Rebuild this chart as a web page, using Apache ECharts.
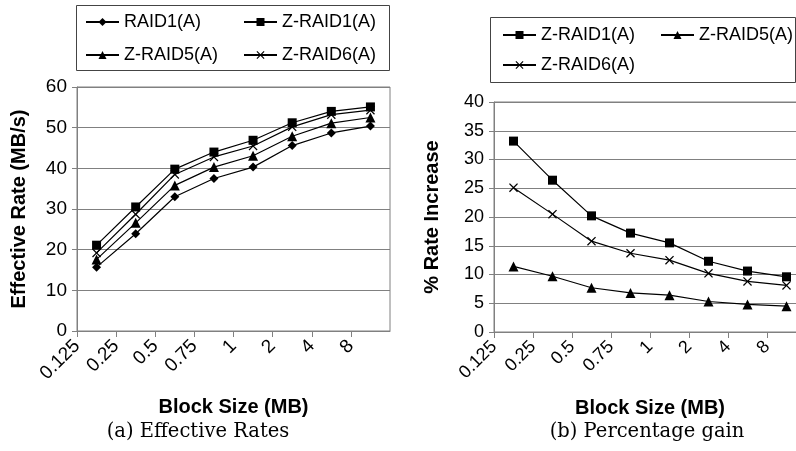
<!DOCTYPE html>
<html>
<head>
<meta charset="utf-8">
<script src="https://cdn.jsdelivr.net/npm/echarts@6/dist/echarts.min.js"></script>
<style>
  html, body { margin: 0; padding: 0; background: #fff; }
  #chart { width: 796px; height: 451px; }
</style>
</head>
<body>
<div id="chart"></div>
<script>
  // block sizes (MB), tick labels on both x axes
  const blockSizes = ['0.125', '0.25', '0.5', '0.75', '1', '2', '4', '8'];

  // (a) effective rates, MB/s
  const raid1 = [15.7, 23.9, 33.0, 37.5, 40.3, 45.6, 48.7, 50.4];
  const zraid1 = [21.1, 30.5, 39.8, 44.0, 46.9, 51.2, 54.0, 55.1];
  const zraid5 = [17.6, 26.6, 35.8, 40.3, 43.1, 47.9, 51.1, 52.5];
  const zraid6 = [19.2, 28.7, 38.5, 42.8, 45.5, 50.2, 53.2, 54.3];

  // (b) percentage gain over RAID1
  const gainZraid1 = [33.2, 26.4, 20.2, 17.2, 15.5, 12.3, 10.6, 9.6];
  const gainZraid5 = [11.4, 9.7, 7.7, 6.8, 6.4, 5.3, 4.8, 4.5];
  const gainZraid6 = [25.1, 20.5, 15.8, 13.7, 12.5, 10.2, 8.8, 8.1];

  const sans = '"Liberation Sans", Arial, sans-serif';
  const serif = '"DejaVu Serif", "Liberation Serif", serif';
  const gray = '#808080';
  const crossPath = 'path://M0,1L1,0L5,4L9,0L10,1L6,5L10,9L9,10L5,6L1,10L0,9L4,5Z';

  const chart = echarts.init(document.getElementById('chart'));

  function lineSeries(name, data, symbol, size, idx) {
    return {
      name: name,
      type: 'line',
      xAxisIndex: idx * 2,
      yAxisIndex: idx,
      data: data,
      symbol: symbol,
      symbolSize: size,
      showAllSymbol: true,
      animation: false,
      lineStyle: { color: '#000', width: 1.2 },
      itemStyle: { color: '#000' }
    };
  }

  // data axis (bands) + label axis (labels sit on the band edges)
  function xAxes(gridIndex, fontSize) {
    return [
      {
        type: 'category',
        gridIndex: gridIndex,
        position: 'bottom',
        data: blockSizes,
        boundaryGap: true,
        axisLine: { show: true, lineStyle: { color: gray } },
        axisTick: { show: false },
        axisLabel: { show: false },
        splitLine: { show: false }
      },
      {
        type: 'category',
        gridIndex: gridIndex,
        position: 'bottom',
        offset: 0,
        data: blockSizes.concat(['']),
        boundaryGap: false,
        axisLine: { show: false },
        axisTick: {
          show: true, length: 6,
          interval: function (i) { return i < blockSizes.length; },
          lineStyle: { color: gray }
        },
        axisLabel: {
          rotate: 45, margin: 12, interval: 0,
          fontFamily: sans, fontSize: fontSize, color: '#000'
        },
        splitLine: { show: false },
        name: 'Block Size (MB)',
        nameLocation: 'middle',
        nameGap: 66,
        nameTextStyle: { fontFamily: sans, fontSize: 20, fontWeight: 'bold', color: '#000' }
      }
    ];
  }

  function yAxis(gridIndex, max, interval, name, nameGap, fontSize) {
    return {
      type: 'value',
      gridIndex: gridIndex,
      min: 0, max: max, interval: interval,
      axisLine: { show: true, lineStyle: { color: gray } },
      axisTick: { show: true, length: 5, lineStyle: { color: gray } },
      axisLabel: { margin: 10, fontFamily: sans, fontSize: fontSize, color: '#000' },
      splitLine: { show: true, lineStyle: { color: gray, width: 1 } },
      name: name,
      nameLocation: 'middle',
      nameGap: nameGap,
      nameTextStyle: { fontFamily: sans, fontSize: 20, fontWeight: 'bold', color: '#000' }
    };
  }

  // one legend per column so the columns line up like the original
  function legendCol(left, top, gap, names) {
    return {
      orient: 'vertical',
      left: left, top: top,
      padding: 0,
      itemWidth: 33,
      itemHeight: 10,
      itemGap: gap,
      textStyle: { fontFamily: sans, fontSize: 18, lineHeight: 20, color: '#000' },
      data: names,
      formatter: function (n) { return n.replace('#b', ''); }
    };
  }

  const option = {
    animation: false,
    backgroundColor: '#fff',
    legend: [
      legendCol(85, 12, 13, ['RAID1(A)', 'Z-RAID5(A)']),
      legendCol(243, 12, 13, ['Z-RAID1(A)', 'Z-RAID6(A)']),
      legendCol(502, 25, 10, ['Z-RAID1(A)#b', 'Z-RAID6(A)#b']),
      legendCol(660, 25, 10, ['Z-RAID5(A)#b'])
    ],
    grid: [
      { left: 77, right: 406, top: 87, bottom: 120, show: true, borderColor: gray, borderWidth: 1, outerBoundsMode: 'none' },
      { left: 494, right: -10, top: 102, bottom: 119, show: true, borderColor: gray, borderWidth: 1, outerBoundsMode: 'none' }
    ],
    xAxis: xAxes(0, 19).concat(xAxes(1, 18)),
    yAxis: [
      yAxis(0, 60, 10, 'Effective Rate (MB/s)', 48, 19),
      yAxis(1, 40, 5, '% Rate Increase', 52, 18)
    ],
    series: [
      lineSeries('RAID1(A)', raid1, 'diamond', 9, 0),
      lineSeries('Z-RAID1(A)', zraid1, 'rect', 9, 0),
      lineSeries('Z-RAID5(A)', zraid5, 'triangle', 10, 0),
      lineSeries('Z-RAID6(A)', zraid6, crossPath, 9, 0),
      lineSeries('Z-RAID1(A)#b', gainZraid1, 'rect', 9, 1),
      lineSeries('Z-RAID5(A)#b', gainZraid5, 'triangle', 10, 1),
      lineSeries('Z-RAID6(A)#b', gainZraid6, crossPath, 9, 1)
    ],
    graphic: [
      // legend frames
      {
        type: 'rect', shape: { x: 76.5, y: 5.5, width: 313, height: 65 },
        style: { fill: 'none', stroke: '#444', lineWidth: 1 }
      },
      {
        type: 'rect', shape: { x: 490.5, y: 17.5, width: 305, height: 65 },
        style: { fill: 'none', stroke: '#444', lineWidth: 1 }
      },
      {
        type: 'text', x: 198, y: 422,
        style: { text: '(a) Effective Rates', font: '19.5px ' + serif, fill: '#000', textAlign: 'center' }
      },
      {
        type: 'text', x: 647, y: 422,
        style: { text: '(b) Percentage gain', font: '19.5px ' + serif, fill: '#000', textAlign: 'center' }
      }
    ]
  };

  chart.setOption(option);
  window.addEventListener('resize', function () {
    chart.resize();
  });
</script>
</body>
</html>
